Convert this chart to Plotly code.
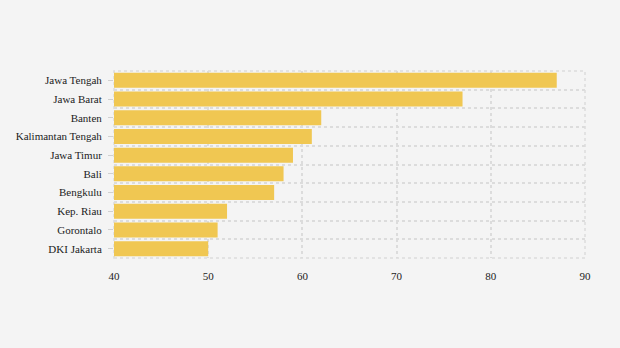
import plotly.graph_objects as go

provinces = ["Jawa Tengah", "Jawa Barat", "Banten", "Kalimantan Tengah", "Jawa Timur",
             "Bali", "Bengkulu", "Kep. Riau", "Gorontalo", "DKI Jakarta"]
values = [87, 77, 62, 61, 59, 58, 57, 52, 51, 50]
x_ticks = [40, 50, 60, 70, 80, 90]

n = len(provinces)
ypos = list(range(n))

fig = go.Figure(go.Bar(
    x=values, y=ypos, orientation="h",
    marker=dict(color="#F0C752", line=dict(width=0)),
    width=0.8,
    hoverinfo="x+text", text=provinces, textposition="none",
))

grid = "#dcdcdc"
fig.update_layout(
    width=620, height=348,
    margin=dict(l=114, r=35, t=71, b=90),
    paper_bgcolor="#f4f4f4", plot_bgcolor="#f4f4f4",
    font=dict(family="Liberation Serif", size=11, color="#222"),
    showlegend=False,
    xaxis=dict(range=[40, 90], tickvals=x_ticks, showgrid=True, gridcolor=grid,
               griddash="dot", gridwidth=1.5, zeroline=False, showline=False,
               ticks="outside", ticklen=8, tickcolor="rgba(0,0,0,0)"),
    yaxis=dict(range=[n - 0.5, -0.5], tickvals=ypos, ticktext=provinces,
               showgrid=False, zeroline=False, showline=False,
               ticks="outside", ticklen=5, tickcolor="#d0d0d0",
               ticklabelstandoff=4,
               minor=dict(tick0=-0.5, dtick=1, showgrid=True, gridcolor=grid,
                          griddash="dot", gridwidth=1.5, ticks="")),
    shapes=[dict(type="rect", xref="paper", yref="paper", x0=0, x1=1, y0=0, y1=1,
                 line=dict(color=grid, width=1.5, dash="dot"), layer="below")],
)

fig.write_html("out.html")
